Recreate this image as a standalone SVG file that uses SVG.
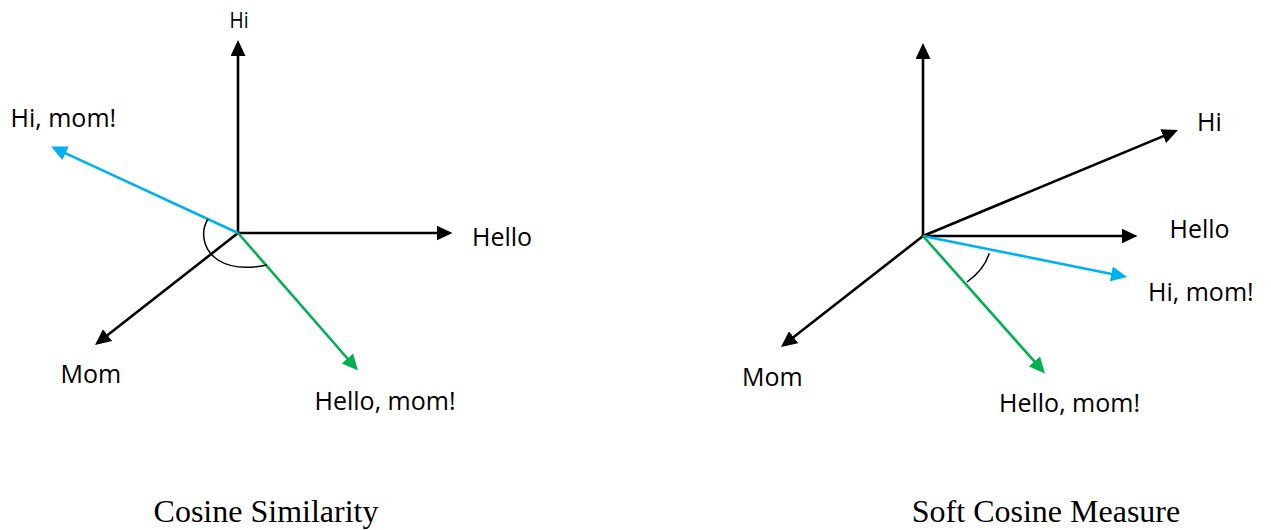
<svg xmlns="http://www.w3.org/2000/svg" width="1271" height="530" viewBox="0 0 1271 530">
<style>
.lbl{font-family:"Open Sans","Noto Sans",sans-serif;font-size:25px;fill:#000}
.cap{font-family:"Liberation Serif","Times New Roman",serif;font-size:32px;fill:#000;text-anchor:middle}
.k{stroke:#000;stroke-width:2.6;fill:none}
.b{stroke:#00B0F0;stroke-width:2.6;fill:none}
.g{stroke:#00B050;stroke-width:2.6;fill:none}
.arc{stroke:#000;stroke-width:1.5;fill:none}
</style>
<defs>
<marker id="ak" viewBox="0 0 16 15" refX="8" refY="7.5" markerWidth="16" markerHeight="15" markerUnits="userSpaceOnUse" orient="auto"><path d="M0,0 L16,7.5 L0,15 Z" fill="#000"/></marker>
<marker id="ab" viewBox="0 0 16 15" refX="8" refY="7.5" markerWidth="16" markerHeight="15" markerUnits="userSpaceOnUse" orient="auto"><path d="M0,0 L16,7.5 L0,15 Z" fill="#00B0F0"/></marker>
<marker id="ag" viewBox="0 0 16 15" refX="8" refY="7.5" markerWidth="16" markerHeight="15" markerUnits="userSpaceOnUse" orient="auto"><path d="M0,0 L16,7.5 L0,15 Z" fill="#00B050"/></marker>
</defs>
<rect width="1271" height="530" fill="#fff"/>
<g id="connectors">
<line class="k" x1="238" y1="233" x2="238" y2="48" marker-end="url(#ak)"/>
<line class="k" x1="238" y1="233" x2="444.5" y2="233" marker-end="url(#ak)"/>
<line class="k" x1="238" y1="233" x2="101.3" y2="340.1" marker-end="url(#ak)"/>
<line class="b" x1="238" y1="233" x2="58.3" y2="149.9" marker-end="url(#ab)"/>
<line class="g" x1="238" y1="233" x2="352.7" y2="364.5" marker-end="url(#ag)"/>
<path class="arc" d="M208,219 C200,232 203,250 218,260 C232,269 252,268 267,265"/>
<line class="k" x1="923" y1="236" x2="923" y2="51" marker-end="url(#ak)"/>
<line class="k" x1="923" y1="236" x2="1170.6" y2="133.1" marker-end="url(#ak)"/>
<line class="k" x1="923" y1="236" x2="1129.5" y2="236" marker-end="url(#ak)"/>
<line class="k" x1="923" y1="236" x2="787.3" y2="342.1" marker-end="url(#ak)"/>
<line class="b" x1="923" y1="236" x2="1119.2" y2="275.4" marker-end="url(#ab)"/>
<line class="g" x1="923" y1="236" x2="1039.7" y2="367.4" marker-end="url(#ag)"/>
<path class="arc" d="M989.3,253.3 Q984,270 967,282"/>
</g>
<g id="left-hi"><text class="lbl" x="229.5" y="28.3" style="font-size:21px" textLength="19" lengthAdjust="spacingAndGlyphs">Hi</text></g>
<g id="left-himom"><text class="lbl" x="10.5" y="127.3">Hi, mom!</text></g>
<g id="left-hello"><text class="lbl" x="472" y="246">Hello</text></g>
<g id="left-mom"><text class="lbl" x="60.5" y="383.3">Mom</text></g>
<g id="left-hellomom"><text class="lbl" x="314.5" y="410">Hello, mom!</text></g>
<g id="right-hi"><text class="lbl" x="1197" y="130.7">Hi</text></g>
<g id="right-hello"><text class="lbl" x="1169.5" y="238.3">Hello</text></g>
<g id="right-himom"><text class="lbl" x="1148" y="301">Hi, mom!</text></g>
<g id="right-mom"><text class="lbl" x="742" y="386">Mom</text></g>
<g id="right-hellomom"><text class="lbl" x="999" y="411.7">Hello, mom!</text></g>
<g id="caption-left"><text class="cap" x="266" y="521.7">Cosine Similarity</text></g>
<g id="caption-right"><text class="cap" x="1046" y="522">Soft Cosine Measure</text></g>
</svg>
